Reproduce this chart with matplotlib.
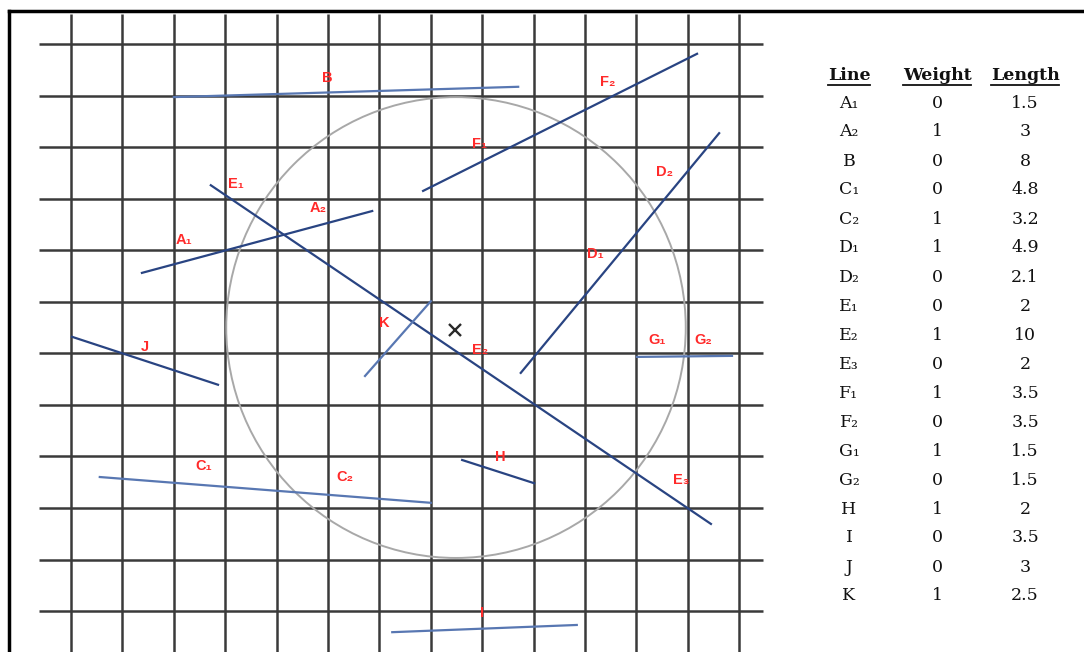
import matplotlib
matplotlib.use("Agg")
import matplotlib.pyplot as plt
from matplotlib.patches import Ellipse
from matplotlib.lines import Line2D

# ---------------- data (grid units; x to the right, y downward) ----------------
seg_names = ["A", "B", "C", "D", "E", "F", "G", "H", "I", "J", "K"]
seg_x0 = [1.38, 2.00, 0.56, 8.75, 2.72, 6.85, 11.01, 7.61, 6.25, 0.02, 5.72]
seg_y0 = [4.44, 1.03, 8.40, 6.38, 2.74, 2.85, 6.07, 8.07, 11.41, 5.68, 6.44]
seg_x1 = [5.86, 8.70, 7.00, 12.61, 12.45, 12.18, 12.86, 9.01, 9.84, 2.86, 7.00]
seg_y1 = [3.24, 0.83, 8.90, 1.73, 9.31, 0.19, 6.05, 8.52, 11.27, 6.61, 4.99]

label_text = ["A₁", "A₂", "B", "C₁", "C₂", "D₁", "D₂", "E₁", "E₂", "E₃",
              "F₁", "F₂", "G₁", "G₂", "H", "I", "J", "K"]
label_x = [2.20, 4.81, 4.98, 2.59, 5.33, 10.21, 11.54, 3.21, 7.96, 11.87,
           7.94, 10.45, 11.40, 12.30, 8.35, 8.00, 1.44, 6.09]
label_y = [3.80, 3.18, 0.66, 8.19, 8.40, 4.07, 2.48, 2.72, 5.94, 8.46,
           1.94, 0.74, 5.74, 5.74, 8.01, 11.04, 5.88, 5.41]

circle_center = (7.49, 5.50)
circle_radius = 4.47
center_mark = (7.47, 5.54)

n_vert = 14   # vertical grid lines
n_horiz = 12  # horizontal grid lines

table_lines = ["A₁", "A₂", "B", "C₁", "C₂", "D₁", "D₂", "E₁", "E₂", "E₃",
               "F₁", "F₂", "G₁", "G₂", "H", "I", "J", "K"]
table_weights = [0, 1, 0, 0, 1, 1, 0, 0, 1, 0, 1, 0, 1, 0, 1, 0, 0, 1]
table_lengths = ["1.5", "3", "8", "4.8", "3.2", "4.9", "2.1", "2", "10", "2",
                 "3.5", "3.5", "1.5", "1.5", "2", "3.5", "3", "2.5"]
table_headers = ["Line", "Weight", "Length"]

# ---------------- styles ----------------
dark_blue = "#294482"
light_blue = "#5877B2"
seg_colors = {"A": dark_blue, "B": light_blue, "C": light_blue, "D": dark_blue,
              "E": dark_blue, "F": dark_blue, "G": light_blue, "H": dark_blue,
              "I": light_blue, "J": dark_blue, "K": light_blue}
grid_color = "#3A3A3A"
label_color = "#FF2A2A"

W, H = 1084, 652
X0, SX = 71.0, 51.4     # px of grid x=0, px per unit
Y0, SY = 44.0, 51.55

fig = plt.figure(figsize=(W / 100, H / 100), dpi=100)
fig.patch.set_facecolor("white")
ax = fig.add_axes([0, 0, 1, 1])
ax.set_xlim(-X0 / SX, (W - X0) / SX)
ax.set_ylim((H - Y0) / SY, -Y0 / SY)
ax.axis("off")


def gx(px):
    return (px - X0) / SX


def gy(py):
    return (py - Y0) / SY


# grid
for i in range(n_vert):
    ax.plot([i, i], [gy(14), gy(H + 5)], color=grid_color, lw=1.8,
            solid_capstyle="butt", zorder=1)
for j in range(n_horiz):
    ax.plot([gx(39), gx(763)], [j, j], color=grid_color, lw=1.8,
            solid_capstyle="butt", zorder=1)

# circle
ax.add_patch(Ellipse(circle_center, 2 * circle_radius, 2 * circle_radius,
                     fill=False, edgecolor="#A8A8A8", lw=1.4, zorder=2))

# center mark
ax.plot([center_mark[0]], [center_mark[1]], marker="x", markersize=8,
        mew=1.7, color="#2A2A2A", zorder=4)

# segments
for n, a, b, c, d in zip(seg_names, seg_x0, seg_y0, seg_x1, seg_y1):
    ax.plot([a, c], [b, d], color=seg_colors[n], lw=1.6, zorder=3)

# labels
for t, x, y in zip(label_text, label_x, label_y):
    ax.text(x, y, t, color=label_color, fontsize=10.5, fontweight="bold",
            family=["Liberation Sans", "DejaVu Sans"],
            ha="center", va="center", zorder=5)

# frame (top and left)
fig.add_artist(Line2D([9 / W, 1.0], [1 - 11 / H, 1 - 11 / H],
                      transform=fig.transFigure, color="black", lw=2.5))
fig.add_artist(Line2D([9 / W, 9 / W], [0, 1 - 11 / H],
                      transform=fig.transFigure, color="black", lw=2.5))

# table
col_px = [849, 937, 1025]
header_py = 75
row0_py = 103
row_step = 29
tfont = ["DejaVu Serif"]
fig.canvas.draw()
renderer = fig.canvas.get_renderer()
for cx, h in zip(col_px, table_headers):
    t = ax.text(gx(cx), gy(header_py), h, family=tfont, fontsize=12.5,
                fontweight="bold", ha="center", va="center", color="#111111")
    bb = t.get_window_extent(renderer=renderer)
    uy = gy(header_py + 10)
    ax.plot([gx(bb.x0), gx(bb.x1)], [uy, uy], color="#111111", lw=1.3)

for i, (ln, wt, lg) in enumerate(zip(table_lines, table_weights, table_lengths)):
    py = row0_py + row_step * i
    for cx, val in zip(col_px, [ln, str(wt), lg]):
        ax.text(gx(cx), gy(py), val, family=tfont, fontsize=12.5,
                ha="center", va="center", color="#111111")

fig.savefig("out.png", dpi=100, facecolor="white")
